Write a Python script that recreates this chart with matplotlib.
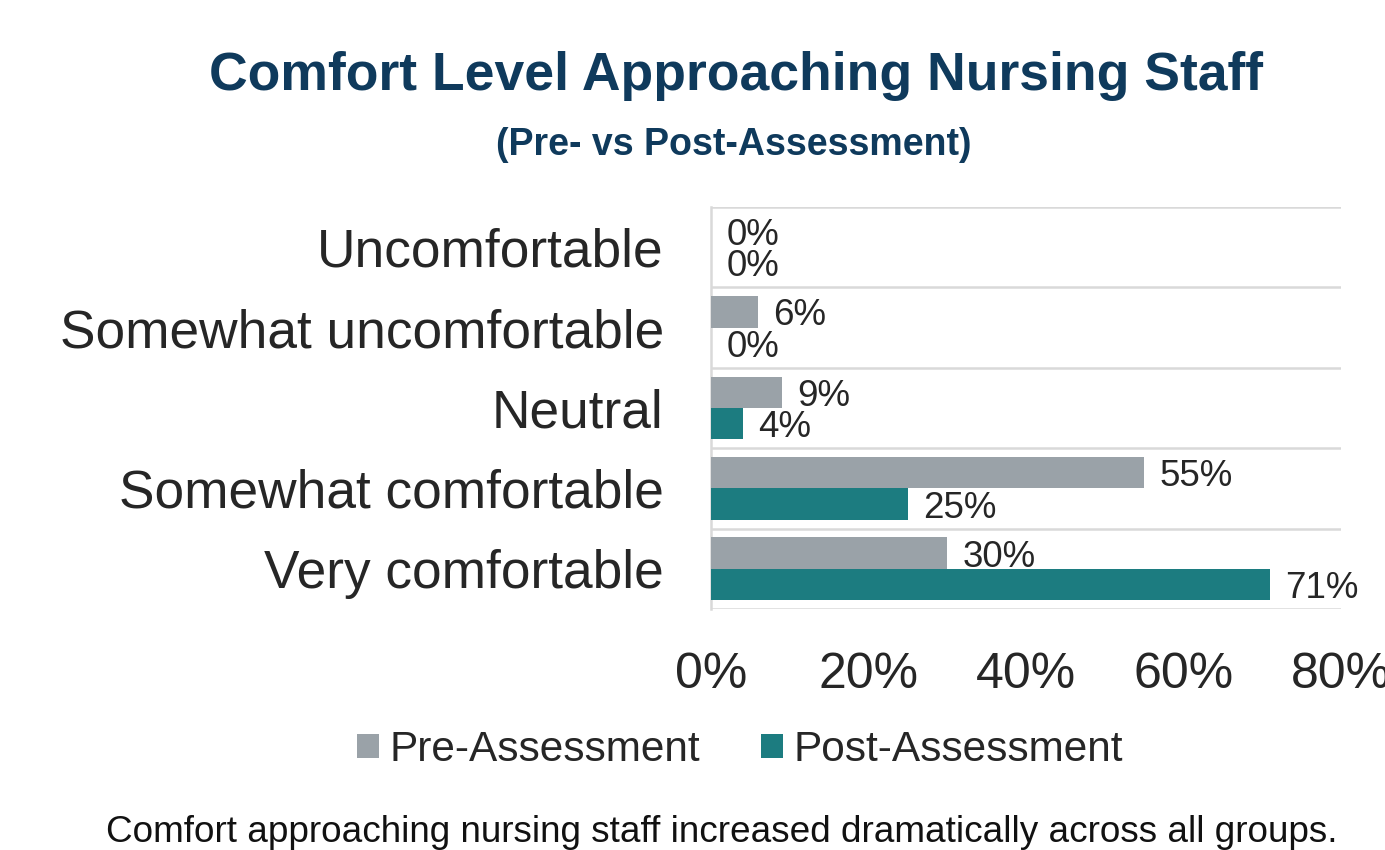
import matplotlib
matplotlib.use("Agg")
import matplotlib.pyplot as plt
import numpy as np

plt.rcParams['font.family'] = ['Liberation Sans', 'DejaVu Sans']

categories = ["Uncomfortable", "Somewhat uncomfortable", "Neutral",
              "Somewhat comfortable", "Very comfortable"]
pre_values = [0, 6, 9, 55, 30]
post_values = [0, 0, 4, 25, 71]
series_names = ["Pre-Assessment", "Post-Assessment"]
x_ticks = [0, 20, 40, 60, 80]
x_tick_labels = ["0%", "20%", "40%", "60%", "80%"]
title = "Comfort Level Approaching Nursing Staff"
subtitle = "(Pre- vs Post-Assessment)"
footnote = "Comfort approaching nursing staff increased dramatically across all groups."

PRE_COLOR = "#9aa2a8"
POST_COLOR = "#1c7c80"
NAVY = "#0f3a5c"
TEXT = "#262626"
GRID = "#d9d9d9"

W, H = 1385, 850
fig = plt.figure(figsize=(W / 100, H / 100), dpi=100)
ax = fig.add_axes([711 / W, 1 - 609 / H, (1341 - 711) / W, (609 - 207) / H])

y = np.arange(len(categories))
bh = 0.39
off = 0.195
ax.barh(y - off, pre_values, height=bh, color=PRE_COLOR, label=series_names[0], zorder=3)
ax.barh(y + off, post_values, height=bh, color=POST_COLOR, label=series_names[1], zorder=3)

ax.set_ylim(len(categories) - 0.5, -0.5)
ax.set_xlim(0, 80)

for b in np.arange(-0.5, len(categories), 1.0):
    ax.axhline(b, color=GRID, linewidth=1.8, zorder=1)

for yi, v in zip(y - off, pre_values):
    ax.annotate(f"{v}%", (v, yi), xytext=(11, 0), textcoords="offset points",
                ha="left", va="center_baseline", fontsize=26.5, color=TEXT)
for yi, v in zip(y + off, post_values):
    ax.annotate(f"{v}%", (v, yi), xytext=(11, 0), textcoords="offset points",
                ha="left", va="center_baseline", fontsize=26.5, color=TEXT)

ax.set_yticks(y)
ax.set_yticklabels(categories, fontsize=38.3, color=TEXT)
ax.set_xticks(x_ticks)
ax.set_xticklabels(x_tick_labels, fontsize=36, color=TEXT)
ax.tick_params(axis="y", length=0, pad=34)
ax.tick_params(axis="x", length=0, pad=31)

for s in ["top", "right", "bottom"]:
    ax.spines[s].set_visible(False)
ax.spines["left"].set_color(GRID)
ax.spines["left"].set_linewidth(1.8)

fig.text(736 / W, 1 - 90 / H, title, ha="center", va="baseline",
         fontsize=38.5, fontweight="bold", color=NAVY)
fig.text(734 / W, 1 - 155 / H, subtitle, ha="center", va="baseline",
         fontsize=27, fontweight="bold", color=NAVY)
fig.text(722 / W, 1 - 842 / H, footnote, ha="center", va="baseline",
         fontsize=26.6, color="#111111")

fs_leg = 30.5
leg = fig.legend(loc="center", bbox_to_anchor=(740 / W, 1 - 750 / H), ncol=2,
                 frameon=False, fontsize=fs_leg, handlelength=0.52, handleheight=0.52,
                 handletextpad=0.24, columnspacing=1.45, borderaxespad=0, borderpad=0)
for t in leg.get_texts():
    t.set_color(TEXT)

fig.savefig("out.png", dpi=100)
